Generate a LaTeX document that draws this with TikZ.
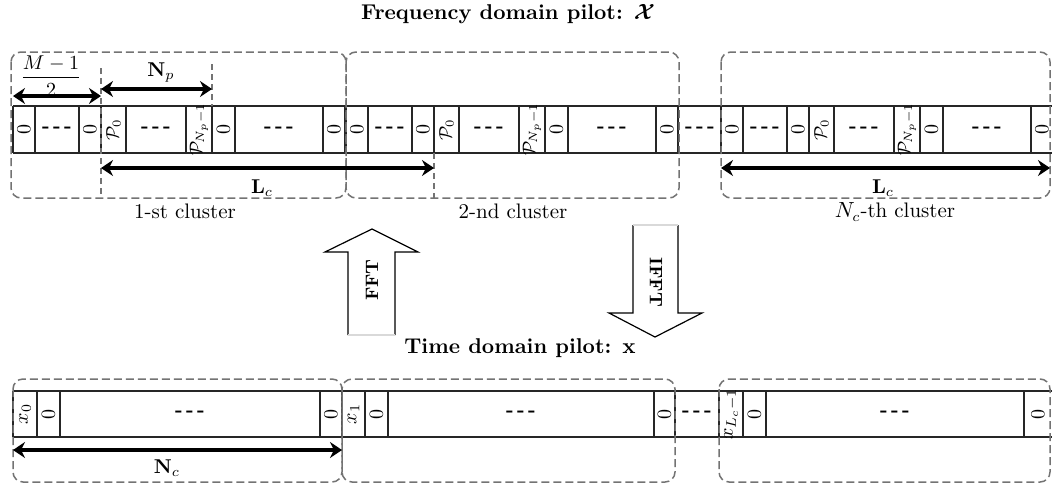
\documentclass[tikz,border=0pt]{standalone}
\usepackage{bm}
\usetikzlibrary{arrows.meta}
\newcommand\mydots{\textbf{-\,-\,-}}
\begin{document}
\begin{tikzpicture}[x=0.5pt,y=-0.5pt,
  clus/.style={draw=black!55, dash pattern=on 4pt off 2pt, line width=0.75pt, rounded corners=5pt},
  barline/.style={draw=black!85, line width=0.6pt},
  dimarrow/.style={line width=2pt, {Stealth[length=6pt,width=8pt]}-{Stealth[length=6pt,width=8pt]}},
  guide/.style={draw=black!55, dash pattern=on 3pt off 2pt, line width=0.6pt},
  celltxt/.style={inner sep=0pt, rotate=90},
  bigarrow/.style={draw=black, line width=0.6pt, fill=white},
  faint/.style={draw=black!15, line width=0.6pt},
  titletxt/.style={font=\fontsize{10.7}{12}\selectfont\bfseries},
  clustxt/.style={font=\fontsize{10.5}{12}\selectfont},
]
\useasboundingbox (0,0) rectangle (1052,488);
\clip (0,0) rectangle (1052,488);

% ---------- top bar ----------
\draw[barline] (13,106) -- (1060,106) (13,153) -- (1060,153);
\foreach \s in {13,346,721}{
  \foreach \o in {0,22,66,88,113,173,199,222,310,332}
    \draw[barline] (\s+\o,106) -- (\s+\o,153);
  \node[celltxt] (za\s) at (\s+11,129.5) {0};
  \node[inner sep=0pt] (da\s) at (\s+44,129.5) {\mydots};
  \node[celltxt] (zb\s) at (\s+77,129.5) {0};
  \node[celltxt] (pa\s) at (\s+100.5,129.5) {\small$\mathcal{P}_0$};
  \node[inner sep=0pt] (db\s) at (\s+143,129.5) {\mydots};
  \node[celltxt] (pb\s) at (\s+186,129.5) {\small$\mathcal{P}_{N_p-1}$};
  \node[celltxt] (zc\s) at (\s+210.5,129.5) {0};
  \node[inner sep=0pt] (dc\s) at (\s+266,129.5) {\mydots};
  \node[celltxt] (zd\s) at (\s+321,129.5) {0};
}
\node[inner sep=0pt] (dmid) at (700,129.5) {\mydots};

% top clusters
\draw[clus] (11,52) rectangle (346,198);
\draw[clus] (346,52) rectangle (679,198);
\draw[clus] (721,52) rectangle (1050,198);

% guides
\draw[guide] (101,68) -- (101,198);
\draw[guide] (212,64) -- (212,106);
\draw[guide] (434,153) -- (434,198);

% dimension arrows (top)
\coordinate (m1) at (13,96);  \coordinate (m2) at (101,96);
\coordinate (n1) at (101,89); \coordinate (n2) at (212,89);
\coordinate (l1) at (101,168); \coordinate (l2) at (434,168);
\coordinate (l3) at (721,168); \coordinate (l4) at (1050,168);
\draw[dimarrow] (m1) -- (m2);
\draw[dimarrow] (n1) -- (n2);
\draw[dimarrow] (l1) -- (l2);
\draw[dimarrow] (l3) -- (l4);

\node (frac) at (51,76) {$\displaystyle\frac{M-1}{2}$};
\node (np) at (161,72) {$\mathbf{N}_p$};
\node (lcA) at (262,188) {$\mathbf{L}_c$};
\node (lcB) at (883,188) {$\mathbf{L}_c$};
\node[clustxt] (c1) at (185,211) {1-st cluster};
\node[clustxt] (c2) at (513,211) {2-nd cluster};
\node[clustxt] (c3) at (895,212) {$N_c$-th cluster};

% titles
\node[titletxt] (ftitle) at (508,14) {Frequency domain pilot: $\bm{\mathcal{X}}$};
\node[titletxt] (ttitle) at (520,348) {Time domain pilot: $\mathbf{x}$};

% FFT / IFFT arrows
\draw[bigarrow] (348,335) -- (348,252) -- (325,252) -- (372,229) -- (418,252) -- (395,252) -- (395,335);
\draw[faint] (348,335) -- (395,335);
\node[rotate=90] (fft) at (372,280) {\small\bfseries FFT};
\draw[bigarrow] (678,225) -- (678,313) -- (702,313) -- (655,337) -- (609,313) -- (633,313) -- (633,225);
\draw[faint] (633,225) -- (678,225);
\node[rotate=-90] (ifft) at (656,282) {\small\bfseries IFFT};

% ---------- bottom bar ----------
\draw[barline] (13,391) -- (1060,391) (13,437) -- (1060,437);
\foreach \x in {13,37,60,320,342,365,388,654,675,719,743,766,1024}
  \draw[barline] (\x,391) -- (\x,437);
\node[celltxt] (bx0) at (25,414) {$x_0$};
\node[celltxt] (bz1) at (48.5,414) {0};
\node[inner sep=0pt] (bd1) at (190,414) {\mydots};
\node[celltxt] (bz2) at (331,414) {0};
\node[celltxt] (bx1) at (353.5,414) {$x_1$};
\node[celltxt] (bz3) at (376.5,414) {0};
\node[inner sep=0pt] (bd2) at (521,414) {\mydots};
\node[celltxt] (bz4) at (664.5,414) {0};
\node[inner sep=0pt] (bd3) at (697,414) {\mydots};
\node[celltxt] (bxl) at (731,414) {$x_{L_c-1}$};
\node[celltxt] (bz5) at (754.5,414) {0};
\node[inner sep=0pt] (bd4) at (895,414) {\mydots};
\node[celltxt] (bz6) at (1038,414) {0};

% bottom clusters
\draw[clus] (13,379) rectangle (342,482);
\draw[clus] (342,379) rectangle (675,482);
\draw[clus] (719,379) rectangle (1050,482);

\coordinate (k1) at (13,450); \coordinate (k2) at (342,450);
\draw[dimarrow] (k1) -- (k2);
\node (nc) at (167,468) {$\mathbf{N}_c$};
\end{tikzpicture}
\end{document}
